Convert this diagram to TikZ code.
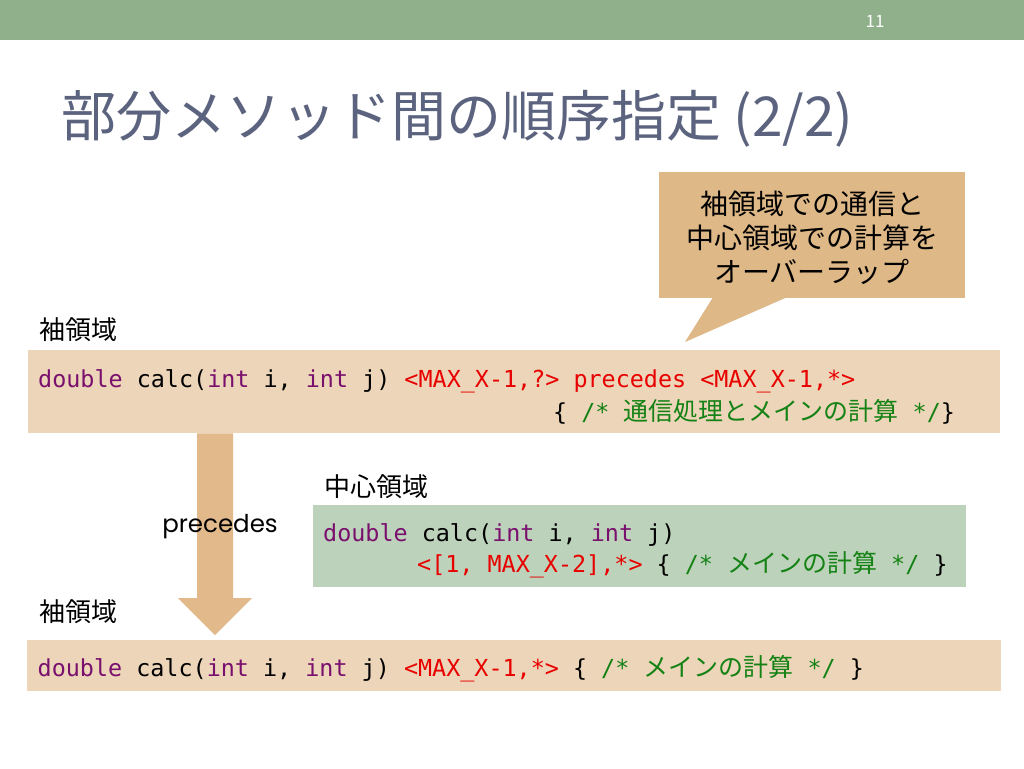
\documentclass[tikz,border=0pt]{standalone}
\usepackage{fontspec}
\setmainfont{Noto Sans CJK JP}
\newfontfamily\jpfont{Noto Sans CJK JP}
\newfontfamily\monofont{DejaVu Sans Mono}
\newfontfamily\geofont{Poppins}
\usetikzlibrary{calc}
\definecolor{barcol}{RGB}{143,176,138}
\definecolor{titlecol}{RGB}{91,99,126}
\definecolor{tanbox}{RGB}{236,213,184}
\definecolor{greenbox}{RGB}{189,210,186}
\definecolor{arrowcol}{RGB}{226,185,139}
\definecolor{callcol}{RGB}{222,184,135}
\definecolor{kwcol}{RGB}{122,16,110}
\definecolor{redcol}{RGB}{232,0,0}
\definecolor{cmcol}{RGB}{20,130,20}
\newcommand{\kw}[1]{\textcolor{kwcol}{#1}}
\newcommand{\rd}[1]{\textcolor{redcol}{#1}}
\newcommand{\cm}[1]{\textcolor{cmcol}{#1}}
\newcommand{\jp}[1]{{\jpfont\fontsize{25pt}{33pt}\selectfont #1}}
\newcommand{\ms}{\hspace*{14.09pt}}
\newcommand{\monosetup}[1]{\monofont\fontsize{23.4pt}{#1}\selectfont}
\newcommand{\strutx}{\rule{0pt}{28pt}}
\tikzset{
  codebox/.style={anchor=north west, inner xsep=10pt, inner ysep=0pt, align=left,
    font=\monosetup{33pt}, text=black},
  regionlbl/.style={anchor=west, inner sep=0pt, font=\jpfont\fontsize{26pt}{30pt}\selectfont, text=black},
}
\begin{document}
\begin{tikzpicture}[x=1pt,y=-1pt]
\useasboundingbox (0,0) rectangle (1024,768);
\fill[white] (0,0) rectangle (1024,768);
% top bar
\node[fill=barcol, minimum width=1024pt, minimum height=40pt, inner sep=0pt, anchor=north west] (bar) at (0,0) {};
\node[text=white, font=\jpfont\fontsize{17pt}{20pt}\selectfont] (pagenum) at (875,21) {11};
% title
\node[anchor=west, inner sep=0pt, text=titlecol, font=\jpfont\fontsize{55pt}{62pt}\selectfont] (title) at (61,119) {部分メソッド間の順序指定 (2/2)};
% callout
\node[fill=callcol, minimum width=306pt, minimum height=126pt, inner sep=0pt] (call) at (812,235) {};
\coordinate (tip) at (685,342);
\fill[callcol] ($(call.south)+(-99,-1)$) -- ($(call.south)+(-25,-1)$) -- (tip) -- cycle;
\node[align=center, inner sep=0pt, font=\jpfont\fontsize{28pt}{34pt}\selectfont] (calltxt) at (812,238) {袖領域での通信と\\中心領域での計算を\\オーバーラップ};
% labels
\node[regionlbl] (lbl1) at (39,330) {袖領域};
\node[regionlbl] (lbl2) at (324,487) {中心領域};
\node[regionlbl] (lbl3) at (39,612) {袖領域};
% code boxes
\node[codebox, fill=tanbox, text width=952pt, minimum height=83pt] (b1) at (28,350)
 {\strutx\kw{double}\ms calc(\kw{int}\ms i,\ms\kw{int}\ms j)\ms\rd{<MAX\_X-1,?>\ms precedes\ms<MAX\_X-1,*>}\\
  \hspace*{515pt}\{\ms\cm{/*\ms\jp{通信処理とメインの計算}\ms*/}\}};
\node[codebox, fill=greenbox, text width=633pt, minimum height=82pt, font=\monosetup{31pt}] (b2) at (313,505)
 {\strutx\kw{double}\ms calc(\kw{int}\ms i,\ms\kw{int}\ms j)\\
  \hspace*{94pt}\rd{<[1,\ms MAX\_X-2],*>}\ms\{\ms\cm{/*\ms\jp{メインの計算}\ms*/}\ms\}};
\node[codebox, fill=tanbox, text width=953pt, minimum height=51pt, inner xsep=10.5pt] (b3) at (27,640)
 {\strutx\kw{double}\ms calc(\kw{int}\ms i,\ms\kw{int}\ms j)\ms\rd{<MAX\_X-1,*>}\ms\{\ms\cm{/*\ms\jp{メインの計算}\ms*/}\ms\}};
% arrow from b1 to b3
\coordinate (as) at ($(b1.south west)+(187,0)$);
\coordinate (ae) at ($(b3.north west)+(188,-5)$);
\fill[arrowcol] ($(as)+(-18,0)$) -- ($(as)+(18,0)$) -- ($(as|-ae)+(18,-37)$) -- ($(as|-ae)+(37,-37)$)
  -- (as|-ae) -- ($(as|-ae)+(-37,-37)$) -- ($(as|-ae)+(-18,-37)$) -- cycle;
\node[font=\geofont\fontsize{24.5pt}{28pt}\selectfont, text=black] (prec) at (220,527) {precedes};
\end{tikzpicture}
\end{document}
